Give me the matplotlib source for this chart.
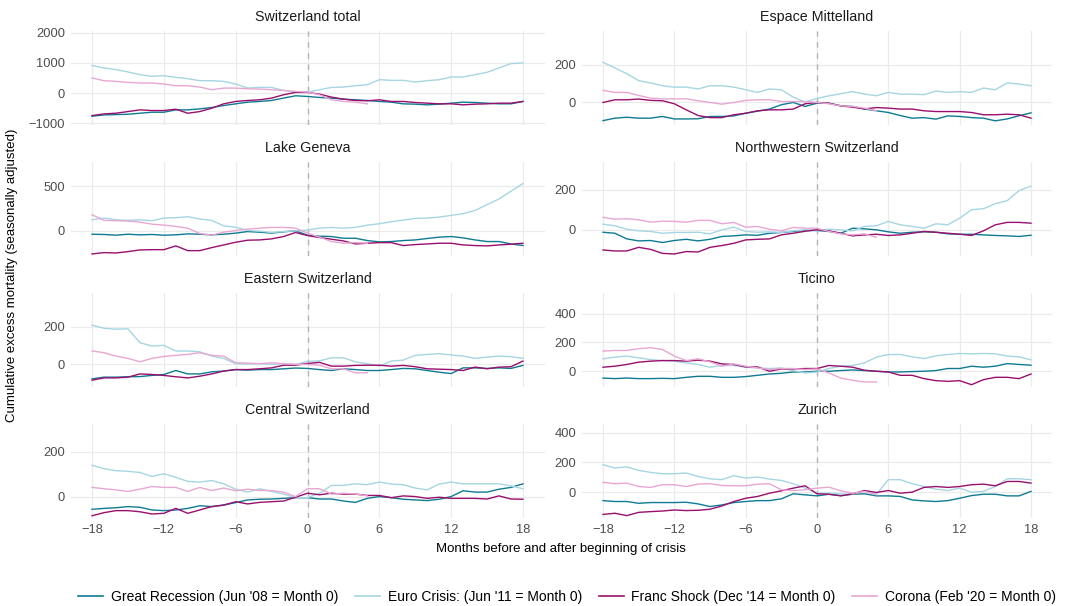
import matplotlib
matplotlib.use("Agg")
import matplotlib.pyplot as plt
from matplotlib.lines import Line2D

plt.rcParams['font.family'] = ['Liberation Sans', 'DejaVu Sans']

months = list(range(-18, 19))
corona_months = list(range(-18, 6))

crisis_labels = ["Great Recession (Jun '08 = Month 0)", "Euro Crisis: (Jun '11 = Month 0)",
                 "Franc Shock (Dec '14 = Month 0)", "Corona (Feb '20 = Month 0)"]
crisis_colors = ["#0f7b93", "#a6d6e3", "#990f6e", "#e8a7d2"]

# Switzerland total
total_recession = [-766, -722, -711, -700, -666, -633, -633, -555, -555, -522, -477, -411, -355, -300, -277, -244, -166, -89,
                   -111, -144, -166, -200, -222, -244, -277, -300, -355, -366, -388, -366, -333, -300, -311, -333, -355, -355, -277]
total_euro = [911, 833, 777, 700, 611, 555, 577, 522, 477, 411, 411, 388, 300, 166, 188, 188, 88, 22,
              33, 111, 188, 200, 244, 277, 444, 422, 422, 366, 411, 444, 533, 533, 611, 688, 833, 977, 1000]
total_franc = [-744, -688, -666, -611, -555, -577, -577, -533, -666, -611, -500, -355, -277, -244, -222, -166, -55, 22,
               22, -33, -133, -200, -244, -255, -222, -277, -277, -311, -333, -355, -355, -388, -366, -355, -333, -333, -277]
total_corona = [500, 411, 388, 355, 333, 333, 300, 244, 244, 200, 111, 166, 166, 144, 133, 111, 88, 55,
                33, -55, -222, -277, -300, -355]

# Espace Mittelland
mittelland_recession = [-96, -83, -78, -83, -83, -74, -87, -87, -86, -74, -74, -71, -57, -46, -35, -12, 0, -21,
                        -4, -4, -18, -21, -35, -44, -53, -69, -83, -80, -88, -71, -74, -80, -83, -97, -87, -70, -55]
mittelland_euro = [212, 182, 152, 115, 103, 88, 81, 81, 71, 88, 88, 81, 67, 53, 71, 67, 28, 2,
                   21, 35, 46, 57, 44, 35, 53, 44, 44, 41, 60, 53, 57, 53, 76, 67, 103, 97, 88]
mittelland_franc = [0, 14, 14, 18, 11, 9, -7, -39, -69, -80, -80, -65, -57, -44, -39, -39, -35, -7,
                    0, -4, -18, -25, -34, -27, -30, -35, -35, -44, -48, -48, -48, -53, -65, -65, -62, -65, -83]
mittelland_corona = [64, 53, 53, 37, 23, 19, 19, 19, 9, 0, -9, 0, 11, 14, 14, 5, 5, 5,
                     0, -7, -18, -21, -30, -44]

# Lake Geneva
geneva_recession = [-38, -41, -49, -38, -45, -41, -49, -45, -34, -38, -45, -38, -26, -8, -15, -26, -11, 0,
                    -49, -60, -64, -83, -83, -109, -124, -120, -109, -102, -86, -71, -64, -79, -102, -120, -120, -147, -165]
geneva_euro = [124, 143, 124, 117, 124, 113, 143, 147, 158, 132, 117, 56, 41, 4, -4, -19, -8, 0,
               8, 30, 38, 30, 38, 64, 79, 102, 120, 139, 143, 154, 173, 192, 229, 293, 357, 444, 530]
geneva_franc = [-259, -244, -248, -233, -214, -211, -211, -169, -222, -222, -188, -158, -128, -105, -102, -90, -64, -19,
                -53, -75, -94, -113, -147, -139, -132, -132, -165, -154, -147, -139, -139, -158, -165, -169, -158, -150, -139]
geneva_corona = [180, 117, 113, 109, 98, 75, 64, 49, 30, -30, -49, -15, 4, 19, 30, 38, 38, 30,
                 -26, -71, -120, -139, -132, -139]

# Northwestern Switzerland
northwest_recession = [-12, -17, -45, -55, -53, -63, -53, -47, -55, -47, -33, -30, -25, -27, -17, -13, -8, -3,
                       -3, -8, -17, 8, 5, 0, -10, -17, -12, -10, -12, -20, -22, -22, -25, -28, -30, -33, -27]
northwest_euro = [28, 20, 3, -5, -8, -17, -13, -13, -12, -20, 0, 13, -8, -12, -10, -13, -5, 0,
                  -3, 3, 0, -5, 17, 20, 42, 25, 17, 8, 30, 25, 58, 100, 105, 130, 145, 195, 217]
northwest_franc = [-100, -105, -105, -87, -97, -117, -120, -108, -110, -87, -78, -67, -50, -47, -45, -25, -17, -7,
                   0, -5, -17, -30, -25, -22, -28, -25, -17, -8, -12, -17, -22, -28, -5, 25, 37, 37, 33]
northwest_corona = [62, 53, 55, 50, 38, 43, 42, 38, 47, 47, 30, 37, 13, 17, 3, -5, 12, 8,
                    8, -8, -20, -25, -20, -37]

# Eastern Switzerland
eastern_recession = [-76, -67, -67, -65, -64, -58, -53, -32, -50, -50, -39, -35, -27, -30, -27, -27, -23, -19,
                     -21, -27, -32, -23, -27, -32, -32, -27, -21, -23, -32, -41, -48, -18, -18, -21, -18, -21, -5]
eastern_euro = [207, 191, 186, 188, 115, 97, 101, 71, 71, 67, 44, 32, 4, 2, 4, 0, 5, 0,
                16, 19, 35, 35, 14, 4, -9, 18, 23, 48, 53, 57, 50, 44, 32, 39, 44, 41, 32]
eastern_franc = [-83, -71, -71, -67, -50, -53, -58, -65, -71, -62, -50, -35, -27, -27, -23, -18, -4, -4,
                 5, 11, -9, -9, -5, -4, -4, -9, -5, -12, -23, -25, -27, -32, -14, -23, -14, -12, 18]
eastern_corona = [71, 62, 44, 32, 14, 32, 42, 48, 53, 62, 48, 44, 9, 7, 4, 9, 4, 0,
                  0, -4, -23, -23, -44, -44]

# Ticino
ticino_recession = [-47, -51, -47, -51, -51, -49, -51, -42, -35, -35, -42, -42, -37, -28, -19, -14, -5, -5,
                    0, 0, 5, 9, 5, 0, -5, -5, -2, 0, 5, 19, 19, 35, 28, 35, 53, 47, 42]
ticino_euro = [86, 98, 105, 93, 81, 74, 70, 58, 47, 28, 40, 40, 28, 23, 19, 23, 5, -12,
               -5, 19, 35, 40, 58, 98, 116, 116, 100, 88, 107, 116, 123, 121, 123, 121, 105, 100, 79]
ticino_franc = [28, 35, 47, 63, 70, 74, 74, 70, 77, 70, 51, 47, 30, 30, 0, 16, 16, 19,
                19, 40, 35, 28, 7, 0, -5, -28, -28, -51, -65, -70, -65, -93, -58, -42, -42, -51, -19]
ticino_corona = [140, 144, 144, 156, 163, 151, 105, 74, 86, 65, 35, 51, 35, 23, 12, 19, 19, 12,
                 16, -12, -47, -63, -74, -74]

# Central Switzerland
central_recession = [-57, -53, -50, -45, -48, -60, -63, -60, -53, -41, -45, -38, -27, -15, -12, -11, -8, -5,
                     -5, -11, -11, -20, -26, -8, 0, -5, -12, -15, -18, -12, 0, 26, 20, 20, 33, 41, 57]
central_euro = [140, 125, 116, 113, 108, 90, 102, 86, 68, 65, 72, 57, 33, 20, 35, 23, 11, -5,
                -5, 15, 50, 50, 57, 53, 65, 56, 53, 38, 30, 56, 65, 57, 57, 57, 57, 48, 35]
central_franc = [-86, -72, -63, -63, -68, -78, -75, -53, -75, -60, -45, -38, -23, -33, -26, -23, -20, -3,
                 15, 8, 15, 11, 11, 5, 5, -5, 3, 0, -8, -3, -8, -8, -8, -11, 3, -11, -12]
central_corona = [41, 35, 30, 23, 33, 45, 41, 41, 23, 41, 27, 38, 26, 33, 27, 27, 20, 0,
                  35, 35, 11, 15, 12, 3]

# Zurich
zurich_recession = [-57, -63, -63, -75, -70, -70, -70, -68, -79, -97, -86, -70, -63, -57, -57, -45, -11, -18,
                    -25, -14, -23, -14, -11, -25, -25, -29, -52, -59, -63, -57, -41, -23, -14, -14, -25, -25, 5]
zurich_euro = [185, 163, 170, 147, 133, 124, 124, 129, 106, 90, 84, 111, 95, 102, 88, 79, 57, 27,
               -7, -7, -11, -14, 9, -14, 84, 84, 57, 38, 20, 11, 27, 0, 5, 38, 90, 90, 84]
zurich_franc = [-150, -142, -158, -136, -131, -127, -120, -124, -122, -115, -93, -63, -41, -29, -7, 9, 27, 43,
                -11, -14, -25, -11, 11, -2, 11, -7, 0, 32, 38, 32, 38, 50, 54, 43, 72, 72, 61]
zurich_corona = [66, 57, 61, 38, 32, 50, 50, 38, 54, 57, 45, 43, 43, 54, 57, 16, 11, 16,
                 27, 34, 9, -7, 5, -18]

panels = [
    ("Switzerland total", [total_recession, total_euro, total_franc, total_corona], (-1056, 2056), [-1000, 0, 1000, 2000]),
    ("Espace Mittelland", [mittelland_recession, mittelland_euro, mittelland_franc, mittelland_corona], (-119, 377), [0, 200]),
    ("Lake Geneva", [geneva_recession, geneva_euro, geneva_franc, geneva_corona], (-282, 771), [0, 500]),
    ("Northwestern Switzerland", [northwest_recession, northwest_euro, northwest_franc, northwest_corona], (-130, 337), [0, 200]),
    ("Eastern Switzerland", [eastern_recession, eastern_euro, eastern_franc, eastern_corona], (-119, 377), [0, 200]),
    ("Ticino", [ticino_recession, ticino_euro, ticino_franc, ticino_corona], (-109, 542), [0, 200, 400]),
    ("Central Switzerland", [central_recession, central_euro, central_franc, central_corona], (-96, 325), [0, 200]),
    ("Zurich", [zurich_recession, zurich_euro, zurich_franc, zurich_corona], (-174, 459), [0, 200, 400]),
]

W, H = 1066, 606
fig = plt.figure(figsize=(W / 100, H / 100), dpi=100)

col_left = [70.5, 581.6]
col_width = [474.0, 470.8]
row_top = [31, 162, 293, 424]
panel_h = 94

for i, (name, series, ylim, yticks) in enumerate(panels):
    col, row = i % 2, i // 2
    ax = fig.add_axes([col_left[col] / W, 1 - (row_top[row] + panel_h) / H,
                       col_width[col] / W, panel_h / H])
    ax.set_xlim(-19.8, 19.8)
    ax.set_ylim(*ylim)
    ax.set_xticks(range(-18, 19, 6))
    ax.set_yticks(yticks)
    ax.grid(True, color="#ebebeb", lw=0.9)
    ax.set_axisbelow(True)
    for s in ax.spines.values():
        s.set_visible(False)
    ax.tick_params(length=0, labelsize=9.3, labelcolor="#4d4d4d", pad=4)
    if row < 3:
        ax.tick_params(labelbottom=False)
    ax.axvline(0, color="#b5b5b5", lw=1.0, ls=(0, (4, 4)), zorder=1.5)
    for k, vals in enumerate(series):
        xs = corona_months if k == 3 else months
        ax.plot(xs, vals, color=crisis_colors[k], lw=1.0, zorder=2 + k)
    ax.text(0.5, 1 + 14 / panel_h, name, transform=ax.transAxes, ha="center", va="center",
            fontsize=10.3, color="#1a1a1a")

fig.text(12 / W, 1 - 275 / H, "Cumulative excess mortality (seasonally adjusted)", rotation=90,
         ha="center", va="center", fontsize=9.5)
fig.text(561 / W, 1 - 549 / H, "Months before and after beginning of crisis", ha="center", va="center",
         fontsize=9.5)

handles = [Line2D([], [], color=c, lw=1.2) for c in crisis_colors]
fig.legend(handles, crisis_labels, loc="center", bbox_to_anchor=(567 / W, 9 / H), ncol=4, frameon=False,
           fontsize=10, handlelength=1.8, handletextpad=0.55, columnspacing=1.2,
           borderpad=0.2, borderaxespad=0)

fig.savefig("out.png", dpi=100)
